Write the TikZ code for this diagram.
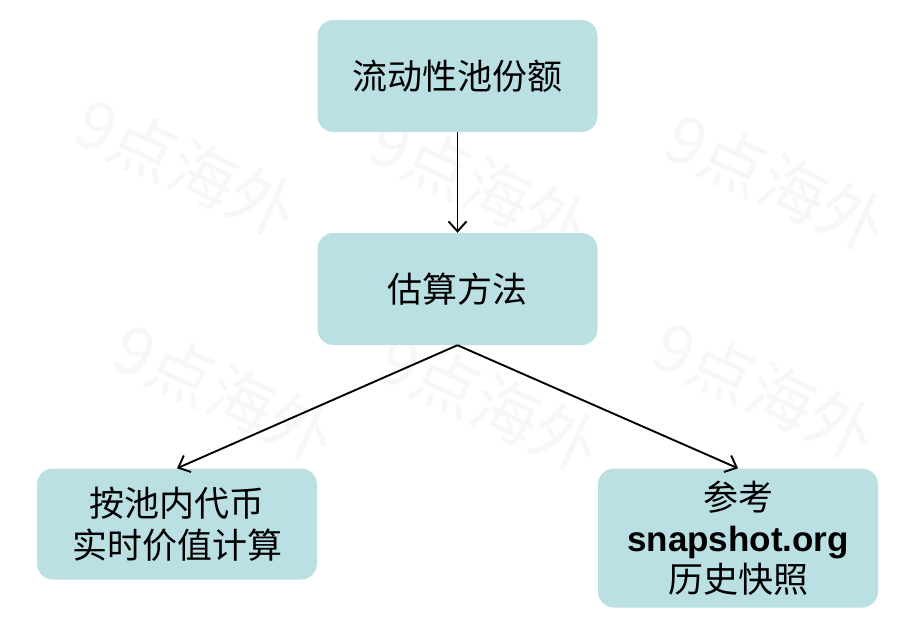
\documentclass[tikz,border=0pt]{standalone}
\usepackage{fontspec}
\setmainfont{Liberation Sans}
\newfontfamily\cjk{Noto Sans CJK SC}
\usetikzlibrary{arrows.meta}
\definecolor{boxfill}{HTML}{BBE0E3}
\definecolor{wmark}{HTML}{F7F7F7}
\tikzset{
  stepbox/.style={fill=boxfill, draw=none, rounded corners=16pt, inner sep=0pt, align=center,
    font=\cjk\fontsize{35}{42}\selectfont},
  conn/.style={draw=black, line width=1.9pt, -{Straight Barb[length=10pt,width=18pt,line width=1.9pt]}},
  wm/.style={text=wmark, font=\cjk\fontsize{66}{70}\selectfont, rotate=-25}
}
\begin{document}
\begin{tikzpicture}[x=1pt,y=-1pt]
\useasboundingbox[fill=white] (0,0) rectangle (923,625);
% watermarks
\foreach \p/\q in {187/167, 481/185, 777/182, 225/392, 490/403, 765/390}
  \node[wm] at (\p,\q) {9点海外};
% boxes
\node[stepbox, minimum width=280pt, minimum height=112pt] (top) at (457.5,76) {流动性池份额};
\node[stepbox, minimum width=280pt, minimum height=112pt] (mid) at (457.5,289) {估算方法};
\node[stepbox, minimum width=280pt, minimum height=111pt] (left) at (177,524) {按池内代币\\实时价值计算};
\node[stepbox, minimum width=280pt, minimum height=139pt, font=\cjk\fontsize{35}{41}\selectfont] (right) at (738,538)
  {参考\\{\normalfont\fontsize{35}{41}\selectfont\bfseries snapshot.org}\\历史快照};
% connectors
\draw[conn] (top.south) -- (mid.north);
\draw[conn] (mid.south) -- (left.north);
\draw[conn] (mid.south) -- (right.north);
\end{tikzpicture}
\end{document}
